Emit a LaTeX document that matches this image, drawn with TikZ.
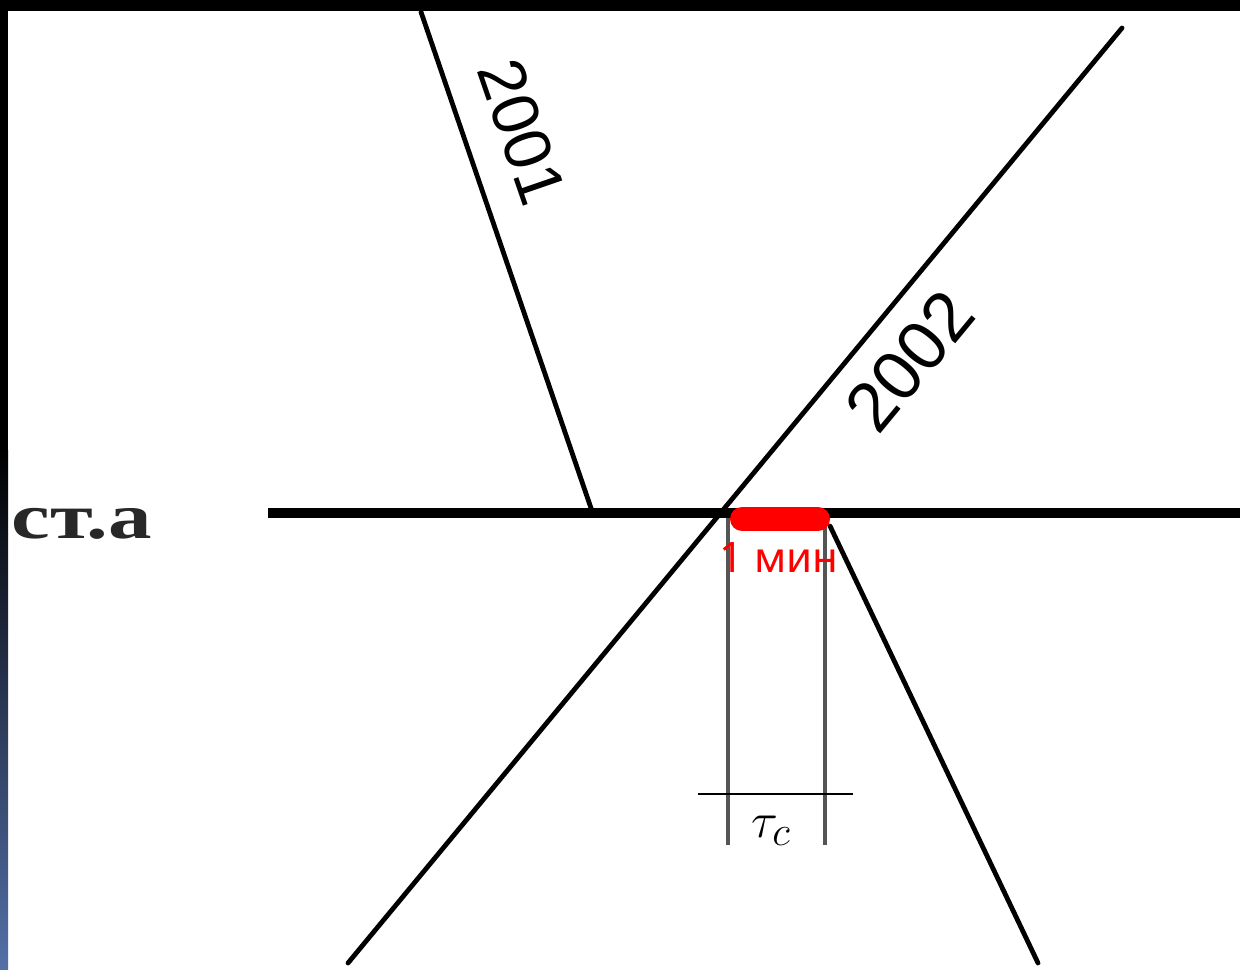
\documentclass[tikz,border=0pt]{standalone}
\usepackage{fontspec}
\setmainfont{Liberation Serif}
\newfontfamily\numfont{Liberation Sans}
\newfontfamily\redfont{Noto Sans}
\definecolor{stripblue}{RGB}{84,112,168}
\definecolor{vgray}{RGB}{85,85,85}
\definecolor{labelgray}{RGB}{40,40,40}
\begin{document}
\begin{tikzpicture}[x=0.5pt,y=-0.5pt,
  trainline/.style={line width=2.4pt,line cap=round},
  stationline/.style={line width=5pt},
  guide/.style={line width=2.2pt,draw=vgray},
  dimline/.style={line width=1.4pt},
  numlabel/.style={font=\numfont\fontsize{33}{33}\selectfont,inner sep=0pt},
  redbar/.style={line width=12pt,line cap=round,draw=red}]
\useasboundingbox (0,0) rectangle (1240,969);
\fill[white] (0,0) rectangle (1240,969);
% coordinates
\coordinate (hA) at (268,513);
\coordinate (hB) at (1240,513);
\coordinate (t1a) at (421,12);
\coordinate (t1b) at (592,511);
\coordinate (t1c) at (830,526);
\coordinate (t1d) at (1038,963);
\coordinate (t2a) at (1122,28);
\coordinate (t2b) at (348,963);
\coordinate (vLa) at (728,515);
\coordinate (vLb) at (728,845);
\coordinate (vRa) at (825,515);
\coordinate (vRb) at (825,845);
\coordinate (dA) at (698,794);
\coordinate (dB) at (853,794);
\coordinate (rA) at (742,519);
\coordinate (rB) at (818,519);
% lines
\draw[guide] (vLa) -- (vLb);
\draw[guide] (vRa) -- (vRb);
\draw[dimline] (dA) -- (dB);
\draw[stationline] (hA) -- (hB);
\draw[trainline] (t1a) -- (t1b);
\draw[trainline] (t1c) -- (t1d);
\draw[trainline] (t2a) -- (t2b);
\draw[redbar] (rA) -- (rB);
% labels
\node[font=\bfseries\fontsize{32}{32}\selectfont,text=labelgray,anchor=base west,inner sep=0pt,xscale=1.36] (sta) at (11,538) {ст.а};
\node[numlabel,rotate=-71] (n2001) at (522,132) {2001};
\node[numlabel,rotate=50.4,font=\numfont\fontsize{35}{35}\selectfont] (n2002) at (910,361) {2002};
\node[font=\redfont\fontsize{21}{21}\selectfont,text=red,inner sep=0pt,anchor=base] (min) at (779,572) {1 мин};
\node[font=\fontsize{32}{32}\selectfont,inner sep=0pt] (tau) at (771,831) {$\tau_c$};
% frame
\fill[black] (0,0) rectangle (1240,11);
\fill[black] (0,0) rectangle (8,450);
\shade[top color=black,bottom color=stripblue] (0,450) rectangle (8,969);
\end{tikzpicture}
\end{document}
